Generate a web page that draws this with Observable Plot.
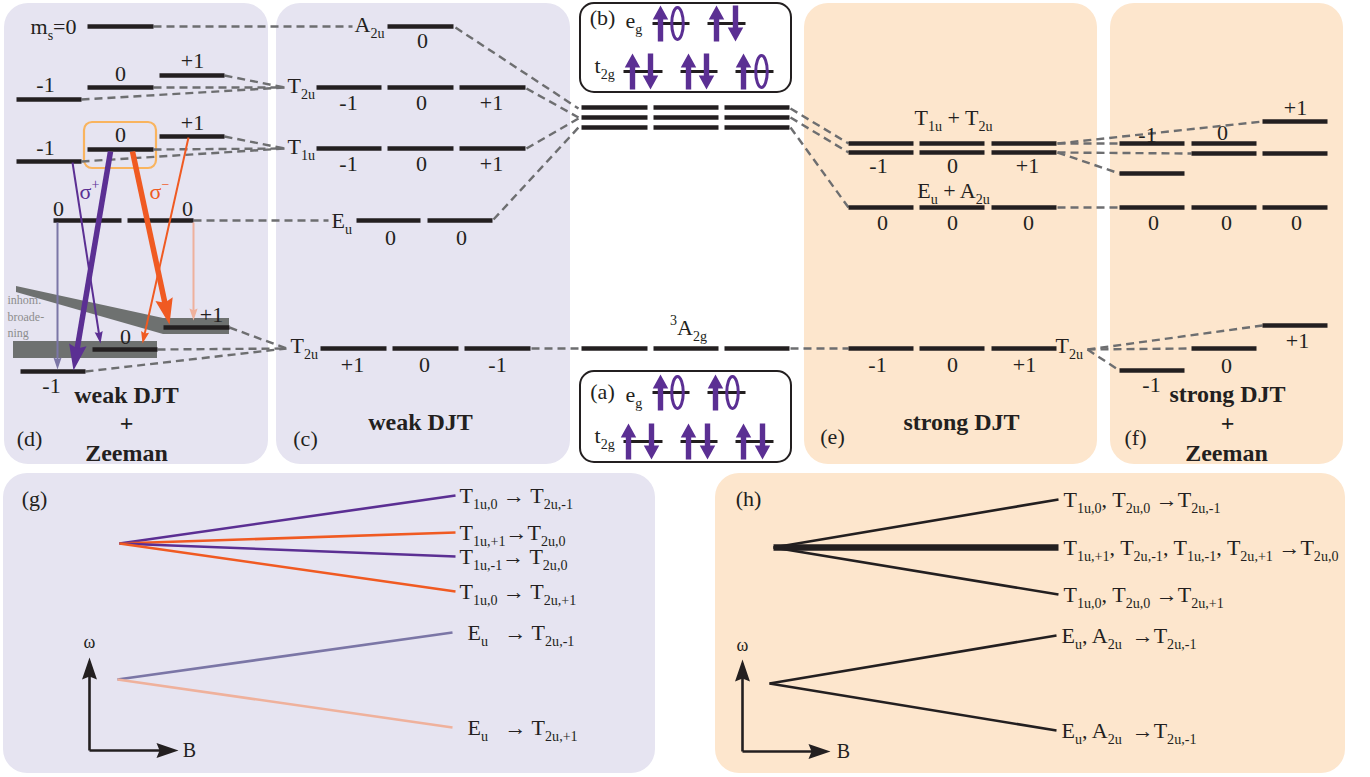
<!DOCTYPE html>
<html><head><meta charset="utf-8">
<script src="https://cdn.jsdelivr.net/npm/d3@7"></script>
<script src="https://cdn.jsdelivr.net/npm/@observablehq/plot@0.6"></script>
<style>html,body{margin:0;padding:0;background:#fff;} #chart svg{display:block;}</style>
</head><body><div id="chart"></div>
<script>
// ---------------- data (diagram coordinates) ----------------
const panels = [
  {id:"d", x1:4,   x2:268,  y1:3,   y2:464, regime:"weak DJT"},
  {id:"c", x1:276, x2:570,  y1:3,   y2:464, regime:"weak DJT"},
  {id:"e", x1:804, x2:1097, y1:3,   y2:464, regime:"strong DJT"},
  {id:"f", x1:1110,x2:1343, y1:3,   y2:464, regime:"strong DJT"},
  {id:"g", x1:3,   x2:655,  y1:473, y2:773, regime:"weak DJT"},
  {id:"h", x1:715, x2:1345, y1:473, y2:773, regime:"strong DJT"}
];
const configBoxes = [
  {id:"b", x1:580, x2:791, y1:3,   y2:92},
  {id:"a", x1:580, x2:791, y1:371, y2:462}
];
const highlight = [{x1:84, x2:156, y1:122, y2:168}];
const broadBands = [
  {x1:13,  x2:157, y1:341, y2:358},
  {x1:163, x2:229, y1:318, y2:334}
];
const broadWedge = [
  {x:16,  y1:286, y2:292},
  {x:163, y1:318, y2:334}
];
const levels = [
  // (d) weak DJT + Zeeman
  {x1:87,x2:153,y:26},
  {x1:16,x2:81,y:99},{x1:87,x2:153,y:87},{x1:159,x2:224,y:75},
  {x1:16,x2:81,y:161},{x1:87,x2:153,y:149},{x1:159,x2:224,y:136},
  {x1:53,x2:121,y:220},{x1:127,x2:193,y:220},
  {x1:163,x2:229,y:327},{x1:92,x2:157,y:349},{x1:20,x2:85,y:371},
  // (c) weak DJT
  {x1:387,x2:453,y:26},
  {x1:316,x2:381,y:87},{x1:387,x2:453,y:87},{x1:459,x2:525,y:87},
  {x1:316,x2:381,y:148},{x1:387,x2:453,y:148},{x1:459,x2:525,y:148},
  {x1:356,x2:420,y:220},{x1:427,x2:492,y:220},
  {x1:320,x2:386,y:348},{x1:392,x2:458,y:348},{x1:464,x2:530,y:348},
  // centre: excited manifold and 3A2g
  {x1:581,x2:647,y:107},{x1:653,x2:718,y:107},{x1:724,x2:789,y:107},
  {x1:581,x2:647,y:117},{x1:653,x2:718,y:117},{x1:724,x2:789,y:117},
  {x1:581,x2:647,y:127},{x1:653,x2:718,y:127},{x1:724,x2:789,y:127},
  {x1:581,x2:647,y:348},{x1:653,x2:718,y:348},{x1:724,x2:789,y:348},
  // (e) strong DJT
  {x1:848,x2:913,y:143},{x1:919,x2:984,y:143},{x1:991,x2:1056,y:143},
  {x1:848,x2:913,y:152},{x1:919,x2:984,y:152},{x1:991,x2:1056,y:152},
  {x1:848,x2:913,y:207},{x1:919,x2:984,y:207},{x1:991,x2:1056,y:207},
  {x1:848,x2:913,y:348},{x1:919,x2:984,y:348},{x1:991,x2:1056,y:348},
  // (f) strong DJT + Zeeman
  {x1:1119,x2:1184,y:143},{x1:1119,x2:1184,y:173},
  {x1:1191,x2:1256,y:143},{x1:1191,x2:1256,y:153},
  {x1:1262,x2:1327,y:121},{x1:1262,x2:1327,y:153},
  {x1:1119,x2:1184,y:207},{x1:1191,x2:1256,y:207},{x1:1262,x2:1327,y:207},
  {x1:1119,x2:1184,y:370},{x1:1191,x2:1256,y:348},{x1:1262,x2:1327,y:325}
];
const orbitals = [
  {x1:652,x2:689,y:23},{x1:707,x2:745,y:23},
  {x1:623,x2:662,y:71},{x1:680,x2:717,y:71},{x1:735,x2:773,y:71},
  {x1:652,x2:689,y:392},{x1:707,x2:745,y:392},
  {x1:623,x2:662,y:441},{x1:680,x2:717,y:441},{x1:735,x2:773,y:441}
];
const electrons = [
  {x:660,y:23,spin:"up"},{x:677,y:23,spin:"hole"},{x:716,y:23,spin:"up"},{x:735,y:23,spin:"down"},
  {x:632,y:71,spin:"up"},{x:650,y:71,spin:"down"},{x:688,y:71,spin:"up"},{x:706,y:71,spin:"down"},
  {x:743,y:71,spin:"up"},{x:761,y:71,spin:"hole"},
  {x:660,y:392,spin:"up"},{x:677,y:392,spin:"hole"},{x:715,y:392,spin:"up"},{x:732,y:392,spin:"hole"},
  {x:628,y:441,spin:"up"},{x:651,y:441,spin:"down"},{x:688,y:441,spin:"up"},{x:707,y:441,spin:"down"},
  {x:743,y:441,spin:"up"},{x:762,y:441,spin:"down"}
];
const correlations = [
  {x1:153,y1:26,x2:352,y2:26},
  {x1:81,y1:99,x2:284,y2:87},{x1:153,y1:87,x2:284,y2:87},{x1:224,y1:75,x2:284,y2:87},
  {x1:81,y1:161,x2:284,y2:148},{x1:153,y1:149,x2:284,y2:148},{x1:224,y1:136,x2:284,y2:148},
  {x1:193,y1:220,x2:328,y2:220},
  {x1:85,y1:371,x2:286,y2:348},{x1:157,y1:349,x2:286,y2:348},{x1:229,y1:327,x2:286,y2:348},
  {x1:455,y1:27,x2:578,y2:108},
  {x1:526,y1:88,x2:578,y2:117},
  {x1:526,y1:148,x2:578,y2:118},
  {x1:493,y1:219,x2:578,y2:127},
  {x1:531,y1:348,x2:581,y2:348},
  {x1:790,y1:108,x2:848,y2:143},
  {x1:790,y1:117,x2:848,y2:152},
  {x1:790,y1:127,x2:848,y2:207},
  {x1:790,y1:348,x2:848,y2:348},
  {x1:1057,y1:143,x2:1262,y2:121},
  {x1:1057,y1:143,x2:1119,y2:143},
  {x1:1057,y1:152,x2:1191,y2:153},
  {x1:1057,y1:152,x2:1119,y2:173},
  {x1:1057,y1:207,x2:1119,y2:207},
  {x1:1087,y1:349,x2:1119,y2:370},
  {x1:1087,y1:349,x2:1191,y2:348},
  {x1:1087,y1:349,x2:1262,y2:325}
];
const transitions = [
  {x1:57, y1:222,x2:57, y2:369,pol:"σ+ (Eu)",weight:"weak"},
  {x1:193,y1:222,x2:193,y2:320,pol:"σ− (Eu)",weight:"weak"},
  {x1:72, y1:162,x2:100,y2:343,pol:"σ+",weight:"weak"},
  {x1:188,y1:137,x2:142,y2:343,pol:"σ−",weight:"weak"},
  {x1:110,y1:151,x2:73, y2:370,pol:"σ+",weight:"strong"},
  {x1:132,y1:151,x2:169,y2:324,pol:"σ−",weight:"strong"}
];
const gTransitions = [
  {x1:119,y1:543,x2:455,y2:495,pol:"σ+",label:"T_{1u,0} → T_{2u,-1}"},
  {x1:119,y1:543,x2:455,y2:532,pol:"σ−",label:"T_{1u,+1}→T_{2u,0}"},
  {x1:119,y1:543,x2:455,y2:556,pol:"σ+",label:"T_{1u,-1}→ T_{2u,0}"},
  {x1:119,y1:543,x2:455,y2:591,pol:"σ−",label:"T_{1u,0} → T_{2u,+1}"},
  {x1:117,y1:679,x2:452,y2:632,pol:"σ+ (Eu)",label:"\u2002E_{u}\u2002 → T_{2u,-1}"},
  {x1:117,y1:679,x2:452,y2:727,pol:"σ− (Eu)",label:"\u2002E_{u}\u2002 → T_{2u,+1}"}
];
const hTransitions = [
  {x1:773,y1:547,x2:1058,y2:499,degeneracy:1,label:"T_{1u,0}, T_{2u,0} →T_{2u,-1}"},
  {x1:773,y1:547,x2:1058,y2:547,degeneracy:4,label:"T_{1u,+1}, T_{2u,-1}, T_{1u,-1}, T_{2u,+1} →T_{2u,0}"},
  {x1:773,y1:547,x2:1058,y2:594,degeneracy:1,label:"T_{1u,0}, T_{2u,0} →T_{2u,+1}"},
  {x1:769,y1:683,x2:1056,y2:635,degeneracy:1,label:"E_{u}, A_{2u} \u2009→T_{2u,-1}"},
  {x1:769,y1:683,x2:1056,y2:730,degeneracy:1,label:"E_{u}, A_{2u} \u2009→T_{2u,-1}"}
];
const axisArrows = [
  {x1:89, y1:750,x2:89, y2:657},{x1:89, y1:750,x2:178,y2:750},
  {x1:742,y1:751,x2:742,y2:659},{x1:742,y1:751,x2:830,y2:751}
];
const axisLabels = [
  {x:89, y:642,text:"ω"},{x:189,y:750,text:"B"},
  {x:742,y:645,text:"ω"},{x:843,y:751,text:"B"}
];
const stateLabels = [
  {x:30,  y:26,  text:"m_{s}=0"},
  {x:354, y:24,  text:"A_{2u}"},
  {x:287, y:85,  text:"T_{2u}"},
  {x:287, y:146, text:"T_{1u}"},
  {x:331, y:220, text:"E_{u}"},
  {x:290, y:345, text:"T_{2u}"},
  {x:1055,y:345, text:"T_{2u}"},
  {x:625, y:20,  text:"e_{g}"},
  {x:594, y:65,  text:"t_{2g}"},
  {x:625, y:394, text:"e_{g}"},
  {x:594, y:435, text:"t_{2g}"}
];
const centredLabels = [
  {x:688, y:327, text:"^{3}A_{2g}"},
  {x:953, y:117, text:"T_{1u} + T_{2u}"},
  {x:953, y:190, text:"E_{u} + A_{2u}"}
];
const panelTags = [
  {x:602,y:17,text:"(b)"},{x:602,y:391,text:"(a)"},
  {x:29,y:438,text:"(d)"},{x:305,y:438,text:"(c)"},
  {x:832,y:436,text:"(e)"},{x:1135,y:437,text:"(f)"},
  {x:34,y:498,text:"(g)"},{x:748,y:498,text:"(h)"}
];
const spinLabels = [
  {x:45,y:84,text:"-1"},{x:120,y:73,text:"0"},{x:192,y:60,text:"+1"},
  {x:45,y:147,text:"-1"},{x:120,y:134,text:"0"},{x:192,y:122,text:"+1"},
  {x:58,y:208,text:"0"},{x:187,y:208,text:"0"},
  {x:211,y:314,text:"+1"},{x:125,y:336,text:"0"},{x:51,y:385,text:"-1"},
  {x:422,y:40,text:"0"},
  {x:348,y:102,text:"-1"},{x:421,y:102,text:"0"},{x:491,y:102,text:"+1"},
  {x:348,y:163,text:"-1"},{x:421,y:163,text:"0"},{x:491,y:163,text:"+1"},
  {x:390,y:237,text:"0"},{x:461,y:237,text:"0"},
  {x:352,y:364,text:"+1"},{x:424,y:364,text:"0"},{x:497,y:364,text:"-1"},
  {x:878,y:165,text:"-1"},{x:952,y:165,text:"0"},{x:1027,y:165,text:"+1"},
  {x:882,y:222,text:"0"},{x:952,y:222,text:"0"},{x:1028,y:222,text:"0"},
  {x:877,y:364,text:"-1"},{x:952,y:364,text:"0"},{x:1024,y:364,text:"+1"},
  {x:1147,y:134,text:"-1"},{x:1222,y:132,text:"0"},{x:1295,y:107,text:"+1"},
  {x:1153,y:222,text:"0"},{x:1226,y:222,text:"0"},{x:1296,y:222,text:"0"},
  {x:1297,y:340,text:"+1"},{x:1226,y:365,text:"0"},{x:1151,y:384,text:"-1"}
];
const regimeTitles = [
  {x:126,y:395,text:"weak DJT"},{x:126,y:423,text:"+"},{x:126,y:453,text:"Zeeman"},
  {x:420,y:422,text:"weak DJT"},
  {x:961,y:422,text:"strong DJT"},
  {x:1227,y:394,text:"strong DJT"},{x:1227,y:423,text:"+"},{x:1226,y:453,text:"Zeeman"}
];
const broadNote = [
  {x:7,y:300,text:"inhom."},{x:7,y:317,text:"broade-"},{x:7,y:333,text:"ning"}
];
const sigmaLabels = [
  {x:89, y:191,text:"σ^{+}",pol:"σ+"},
  {x:159,y:191,text:"σ^{−}",pol:"σ−"}
];

// ---------------- styling ----------------
const PURPLE="#5b2f93", ORANGE="#f05a22", MUTED="#7b76a6", PINK="#efb19c",
      LAV="#e6e4f1", PEACH="#fde6cd", INK="#231f20", DASH="#6d6e70", GREY="#6e7170", HILITE="#f9b45f";
const serif = "Liberation Serif, Times New Roman, serif";

const spinArrow = {draw(ctx, size){
  const r = Math.sqrt(size/Math.PI), hw=r*0.43, sw=r*0.15, hl=r*0.78;
  ctx.moveTo(0,-r); ctx.lineTo(hw,-r+hl); ctx.lineTo(sw,-r+hl); ctx.lineTo(sw,r);
  ctx.lineTo(-sw,r); ctx.lineTo(-sw,-r+hl); ctx.lineTo(-hw,-r+hl); ctx.closePath();
}};
const ring = {draw(ctx, size){
  const b = Math.sqrt(size/Math.PI), a = b*0.36, k = 0.5523;
  ctx.moveTo(0,-b);
  ctx.bezierCurveTo(a*k,-b, a,-b*k, a,0);
  ctx.bezierCurveTo(a,b*k, a*k,b, 0,b);
  ctx.bezierCurveTo(-a*k,b, -a,b*k, -a,0);
  ctx.bezierCurveTo(-a,-b*k, -a*k,-b, 0,-b);
  ctx.closePath();
}};
const head = {draw(ctx, size){
  const L = Math.sqrt(size/Math.PI), w = L*0.34;
  ctx.moveTo(0,0); ctx.lineTo(w,L); ctx.lineTo(0,L*0.86); ctx.lineTo(-w,L); ctx.closePath();
}};
function withHeads(rows, L){
  return rows.map(d => {
    const dx=d.x2-d.x1, dy=d.y2-d.y1, len=Math.hypot(dx,dy), ux=dx/len, uy=dy/len;
    return {...d, sx2:d.x2-ux*L*0.8, sy2:d.y2-uy*L*0.8, angle:Math.atan2(dx,-dy)*180/Math.PI};
  });
}
const weakT = withHeads(transitions.filter(d=>d.weight==="weak"), 12);
const strongT = withHeads(transitions.filter(d=>d.weight==="strong"), 26);
const axesH = withHeads(axisArrows, 22);

const txt = (data, extra) => Plot.text(data, {x:"x", y:"y", text:"text", fontFamily:serif, fontSize:22, fill:INK, ...extra});

const chart = Plot.plot({
  width:1370, height:777, margin:0,
  x:{domain:[0,1370], range:[0,1370], axis:null},
  y:{domain:[0,777], range:[0,777], axis:null},
  color:{type:"ordinal",
    domain:["σ+","σ−","σ+ (Eu)","σ− (Eu)","weak DJT","strong DJT","unresolved"],
    range:[PURPLE,ORANGE,MUTED,PINK,LAV,PEACH,INK]},
  style:{background:"white", overflow:"visible"},
  marks:[
    Plot.rect(panels, {x1:"x1",x2:"x2",y1:"y1",y2:"y2", fill:"regime", rx:24, ry:24}),
    Plot.rect(configBoxes, {x1:"x1",x2:"x2",y1:"y1",y2:"y2", fill:"white", stroke:INK, strokeWidth:2, rx:14, ry:14}),
    Plot.rect(highlight, {x1:"x1",x2:"x2",y1:"y1",y2:"y2", fill:"none", stroke:HILITE, strokeWidth:2.2, rx:8, ry:8}),
    Plot.rect(broadBands, {x1:"x1",x2:"x2",y1:"y1",y2:"y2", fill:GREY}),
    Plot.areaY(broadWedge, {x:"x", y1:"y1", y2:"y2", fill:GREY}),
    Plot.link(correlations, {x1:"x1",y1:"y1",x2:"x2",y2:"y2", stroke:DASH, strokeWidth:2.4, strokeDasharray:"8,5"}),
    Plot.link(levels, {x1:"x1",x2:"x2",y1:"y",y2:"y", stroke:INK, strokeWidth:4.5}),
    Plot.link(orbitals, {x1:"x1",x2:"x2",y1:"y",y2:"y", stroke:INK, strokeWidth:3}),
    // optical transitions in (d)
    Plot.link(weakT, {x1:"x1",y1:"y1",x2:"sx2",y2:"sy2", stroke:"pol", strokeWidth:2}),
    Plot.dot(weakT, {x:"x2",y:"y2", symbol:head, r:12, rotate:"angle", fill:"pol", stroke:null}),
    Plot.link(strongT, {x1:"x1",y1:"y1",x2:"sx2",y2:"sy2", stroke:"pol", strokeWidth:5.5}),
    Plot.dot(strongT, {x:"x2",y:"y2", symbol:head, r:26, rotate:"angle", fill:"pol", stroke:null}),
    // electron configurations
    Plot.dot(electrons.filter(d=>d.spin!=="hole"), {x:"x",y:"y", symbol:spinArrow, r:18,
      rotate:d=>d.spin==="down"?180:0, fill:PURPLE, stroke:null}),
    Plot.dot(electrons.filter(d=>d.spin==="hole"), {x:"x",y:"y", symbol:ring, r:16,
      fill:"none", stroke:PURPLE, strokeWidth:3}),
    // Zeeman fans (g), (h)
    Plot.link(gTransitions, {x1:"x1",y1:"y1",x2:"x2",y2:"y2", stroke:"pol", strokeWidth:2.6}),
    Plot.link(hTransitions, {x1:"x1",y1:"y1",x2:"x2",y2:"y2", stroke:INK, strokeWidth:d=>d.degeneracy>1?6.5:2.6}),
    Plot.link(axesH, {x1:"x1",y1:"y1",x2:"sx2",y2:"sy2", stroke:INK, strokeWidth:2.6}),
    Plot.dot(axesH, {x:"x2",y:"y2", symbol:head, r:22, rotate:"angle", fill:INK, stroke:null}),
    // text
    txt(gTransitions, {x:"x2", y:"y2", text:"label", textAnchor:"start", dx:4}),
    txt(hTransitions, {x:"x2", y:"y2", text:"label", textAnchor:"start", dx:5}),
    txt(axisLabels.filter(d=>d.text==="ω"), {fontSize:18}),
    txt(axisLabels.filter(d=>d.text==="B"), {fontSize:20}),
    txt(stateLabels, {textAnchor:"start"}),
    txt(centredLabels),
    txt(panelTags),
    txt(spinLabels),
    txt(regimeTitles, {fontSize:24, fontWeight:"bold"}),
    txt(broadNote, {textAnchor:"start", fontSize:12, fill:"#8d8d8d"}),
    txt(sigmaLabels, {fill:"pol"})
  ]
});

// turn _{..} / ^{..} markup into real sub/superscript tspans
function richify(root){
  root.querySelectorAll("text").forEach(t => {
    const s = t.textContent;
    if (!/[_^]\{/.test(s)) return;
    const parts = [], re = /([_^])\{([^}]*)\}|([^_^]+|[_^])/g; let m;
    while ((m = re.exec(s))) parts.push(m[1] ? {k:m[1], v:m[2]} : {k:"", v:m[3]});
    while (t.firstChild) t.removeChild(t.firstChild);
    let shift = 0;
    for (const p of parts) {
      const ts = document.createElementNS("http://www.w3.org/2000/svg","tspan");
      const target = p.k==="_" ? 0.30 : p.k==="^" ? -0.42 : 0;
      const d = target - shift;
      if (p.k) ts.setAttribute("font-size","64%");
      if (Math.abs(d) > 1e-6) ts.setAttribute("dy", (p.k ? d/0.64 : d).toFixed(3)+"em");
      shift = target;
      ts.textContent = p.v;
      t.appendChild(ts);
    }
  });
}
document.getElementById("chart").appendChild(chart);
richify(chart);
</script></body></html>
